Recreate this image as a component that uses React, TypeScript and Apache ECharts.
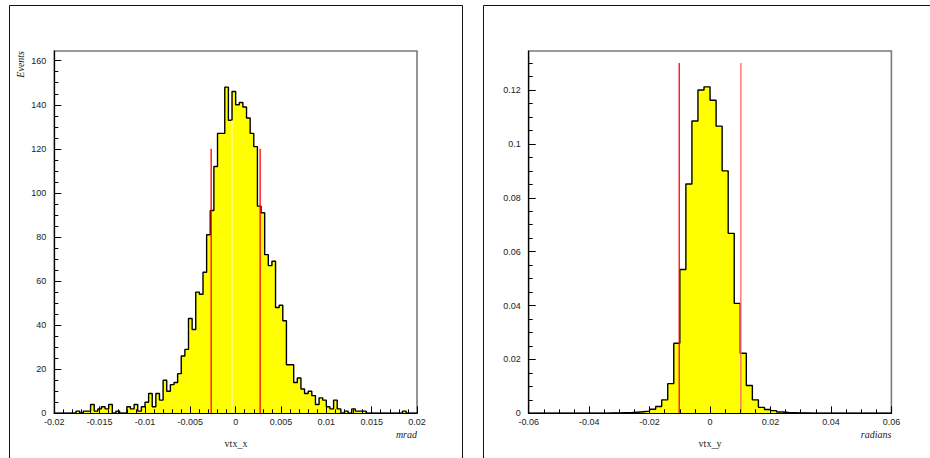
import React, { useEffect, useRef } from "react";
import * as echarts from "echarts";

// ---------- data ----------
// Left histogram: vtx_x, 100 bins from -0.02 to 0.02 (width 0.0004)
const VTX_X_START = -0.02;
const VTX_X_BIN = 0.0004;
const VTX_X_COUNTS = [
  0, 0, 0, 0, 0, 0, 1, 0, 1, 1,
  4, 1, 2, 3, 2, 4, 0, 1, 0, 0,
  3, 2, 4, 1, 3, 5, 9, 3, 9, 6,
  15, 10, 13, 14, 18, 26, 29, 43, 38, 55,
  54, 64, 81, 92, 112, 127, 127, 148, 133, 146,
  140, 141, 139, 134, 127, 121, 94, 91, 72, 67,
  69, 48, 49, 42, 22, 22, 14, 16, 11, 9,
  10, 8, 4, 7, 6, 3, 2, 6, 2, 0,
  1, 0, 2, 1, 1, 1, 0, 0, 0, 0,
  0, 0, 0, 0, 0, 0, 1, 0, 0, 0,
];
const VTX_X_CUTS = [-0.0027, 0.0027];
const VTX_X_CUT_HEIGHT = 120;
const VTX_X_GAP = -0.0004; // faint light line inside the fill
const VTX_X_GAP_HEIGHT = 133;

// Right histogram: vtx_y, 60 bins from -0.06 to 0.06 (width 0.002)
const VTX_Y_START = -0.06;
const VTX_Y_BIN = 0.002;
const VTX_Y_VALUES = [
  0, 0, 0, 0, 0, 0, 0, 0, 0, 0,
  0, 0, 0, 0.0001, 0.0001, 0.0002, 0.0002, 0.0004, 0.0006, 0.0008,
  0.0015, 0.0025, 0.005, 0.011, 0.026, 0.0534, 0.0851, 0.1085, 0.12, 0.1212,
  0.1162, 0.1066, 0.09, 0.0668, 0.0408, 0.0223, 0.0103, 0.005, 0.0022, 0.0014,
  0.001, 0.0005, 0.0003, 0.0002, 0.0001, 0.0001, 0, 0, 0, 0,
  0, 0, 0, 0, 0, 0, 0, 0, 0, 0,
];
const VTX_Y_CUTS = [-0.0102, 0.0102];
const VTX_Y_CUT_HEIGHT = 0.13;

// Axis ticks
const LEFT_Y_MAJOR = [0, 20, 40, 60, 80, 100, 120, 140, 160];
const LEFT_Y_MINOR = Array.from({ length: 33 }, (_, i) => i * 5);
const RIGHT_Y_MAJOR = [0, 0.02, 0.04, 0.06, 0.08, 0.1, 0.12];
const RIGHT_Y_MINOR = Array.from({ length: 27 }, (_, i) => +(i * 0.005).toFixed(3));

function stepData(start: number, width: number, vals: number[]) {
  const pts: number[][] = vals.map((v, k) => [start + k * width, v]);
  pts.push([start + vals.length * width, vals[vals.length - 1]]);
  return pts;
}

const SANS = '"Liberation Sans", Arial, Helvetica, sans-serif';
const SERIF = '"Liberation Serif", "Times New Roman", serif';

export default function App() {
  const ref = useRef<HTMLDivElement>(null);
  useEffect(() => {
    if (!ref.current) return;
    const chart = echarts.init(ref.current, undefined, { renderer: "svg" });

    const labelStyle = { fontSize: 9, color: "#222", fontFamily: SANS };
    const gridBase = {
      top: 51,
      width: 362.7,
      height: 362.3,
      show: true,
      borderColor: "#7a7a7a",
      borderWidth: 1.6,
      backgroundColor: "transparent",
    };
    const axisLine = { show: true, onZero: false, lineStyle: { color: "#000", width: 1.2 } };

    const xAxisCommon = (min: number, max: number, interval: number, split: number, gi: number) => ({
      type: "value",
      gridIndex: gi,
      position: "bottom",
      min,
      max,
      interval,
      z: 5,
      axisLine,
      axisTick: { show: true, inside: true, length: 7, lineStyle: { color: "#000", width: 1 } },
      minorTick: { show: true, splitNumber: split, length: 4, lineStyle: { color: "#000", width: 1 } },
      axisLabel: { ...labelStyle, margin: 4 },
      splitLine: { show: false },
    });

    const yMajor = (max: number, vals: number[], gi: number) => ({
      type: "value",
      gridIndex: gi,
      position: "left",
      min: 0,
      max,
      z: 5,
      axisLine,
      axisTick: { show: true, inside: true, length: 7, customValues: vals, lineStyle: { color: "#000", width: 1 } },
      axisLabel: { ...labelStyle, margin: 8, customValues: vals },
      splitLine: { show: false },
    });
    const yMinor = (max: number, vals: number[], gi: number) => ({
      type: "value",
      gridIndex: gi,
      min: 0,
      max,
      z: 5,
      position: "left",
      axisLine: { show: false, onZero: false },
      axisTick: { show: true, inside: true, length: 4, customValues: vals, lineStyle: { color: "#000", width: 1 } },
      axisLabel: { show: false },
      splitLine: { show: false },
    });

    const hist = (data: number[][], xi: number, yi: number) => ({
      type: "line",
      step: "end",
      xAxisIndex: xi,
      yAxisIndex: yi,
      data,
      symbol: "none",
      lineStyle: { color: "#000", width: 1.4 },
      areaStyle: { color: "#ffff00", opacity: 1 },
      z: 2,
    });
    const vline = (x: number, h: number, xi: number, yi: number, color: string, w = 1) => ({
      type: "line",
      xAxisIndex: xi,
      yAxisIndex: yi,
      data: [
        [x, 0],
        [x, h],
      ],
      symbol: "none",
      lineStyle: { color, width: w },
      z: 3,
    });

    const textStyle = (font: string) => ({ font, fill: "#222" });

    chart.setOption({
      animation: false,
      backgroundColor: "#fff",
      grid: [
        { ...gridBase, left: 54.3 },
        { ...gridBase, left: 528.7 },
      ],
      xAxis: [
        xAxisCommon(-0.02, 0.02, 0.005, 5, 0),
        xAxisCommon(-0.06, 0.06, 0.02, 4, 1),
      ],
      yAxis: [
        yMajor(164.4, LEFT_Y_MAJOR, 0),
        yMinor(164.4, LEFT_Y_MINOR, 0),
        yMajor(0.1345, RIGHT_Y_MAJOR, 1),
        yMinor(0.1345, RIGHT_Y_MINOR, 1),
      ],
      series: [
        hist(stepData(VTX_X_START, VTX_X_BIN, VTX_X_COUNTS), 0, 0),
        vline(VTX_X_GAP, VTX_X_GAP_HEIGHT, 0, 0, "#fffbd8", 1),
        vline(VTX_X_CUTS[0], VTX_X_CUT_HEIGHT, 0, 0, "#ff0000", 1.3),
        vline(VTX_X_CUTS[1], VTX_X_CUT_HEIGHT, 0, 0, "#ff0000", 1.3),
        hist(stepData(VTX_Y_START, VTX_Y_BIN, VTX_Y_VALUES), 1, 2),
        vline(VTX_Y_CUTS[0], VTX_Y_CUT_HEIGHT, 1, 2, "#ff0000", 1.3),
        vline(VTX_Y_CUTS[1], VTX_Y_CUT_HEIGHT, 1, 2, "#ff7070", 1.4),
      ],
      graphic: [
        { type: "rect", shape: { x: 9.5, y: 5.5, width: 453, height: 470 }, style: { fill: "none", stroke: "#111", lineWidth: 1 } },
        { type: "rect", shape: { x: 483.5, y: 5.5, width: 470, height: 470 }, style: { fill: "none", stroke: "#111", lineWidth: 1 } },
        {
          type: "text",
          x: 20.7,
          y: 51,
          rotation: Math.PI / 2,
          style: { ...textStyle(`italic 10px ${SERIF}`), text: "Events", align: "right", verticalAlign: "middle" },
        },
        { type: "text", x: 417, y: 434.5, style: { ...textStyle(`italic 10px ${SERIF}`), text: "mrad", align: "right", verticalAlign: "middle" } },
        { type: "text", x: 236, y: 443.5, style: { ...textStyle(`10px ${SERIF}`), text: "vtx_x", align: "center", verticalAlign: "middle" } },
        { type: "text", x: 891.3, y: 434.5, style: { ...textStyle(`italic 10px ${SERIF}`), text: "radians", align: "right", verticalAlign: "middle" } },
        { type: "text", x: 710, y: 443.5, style: { ...textStyle(`10px ${SERIF}`), text: "vtx_y", align: "center", verticalAlign: "middle" } },
      ],
    });
    return () => chart.dispose();
  }, []);
  return (
    <div
      ref={ref}
      style={{ position: "fixed", left: 0, top: 0, width: 930, height: 458, background: "#fff" }}
    />
  );
}
